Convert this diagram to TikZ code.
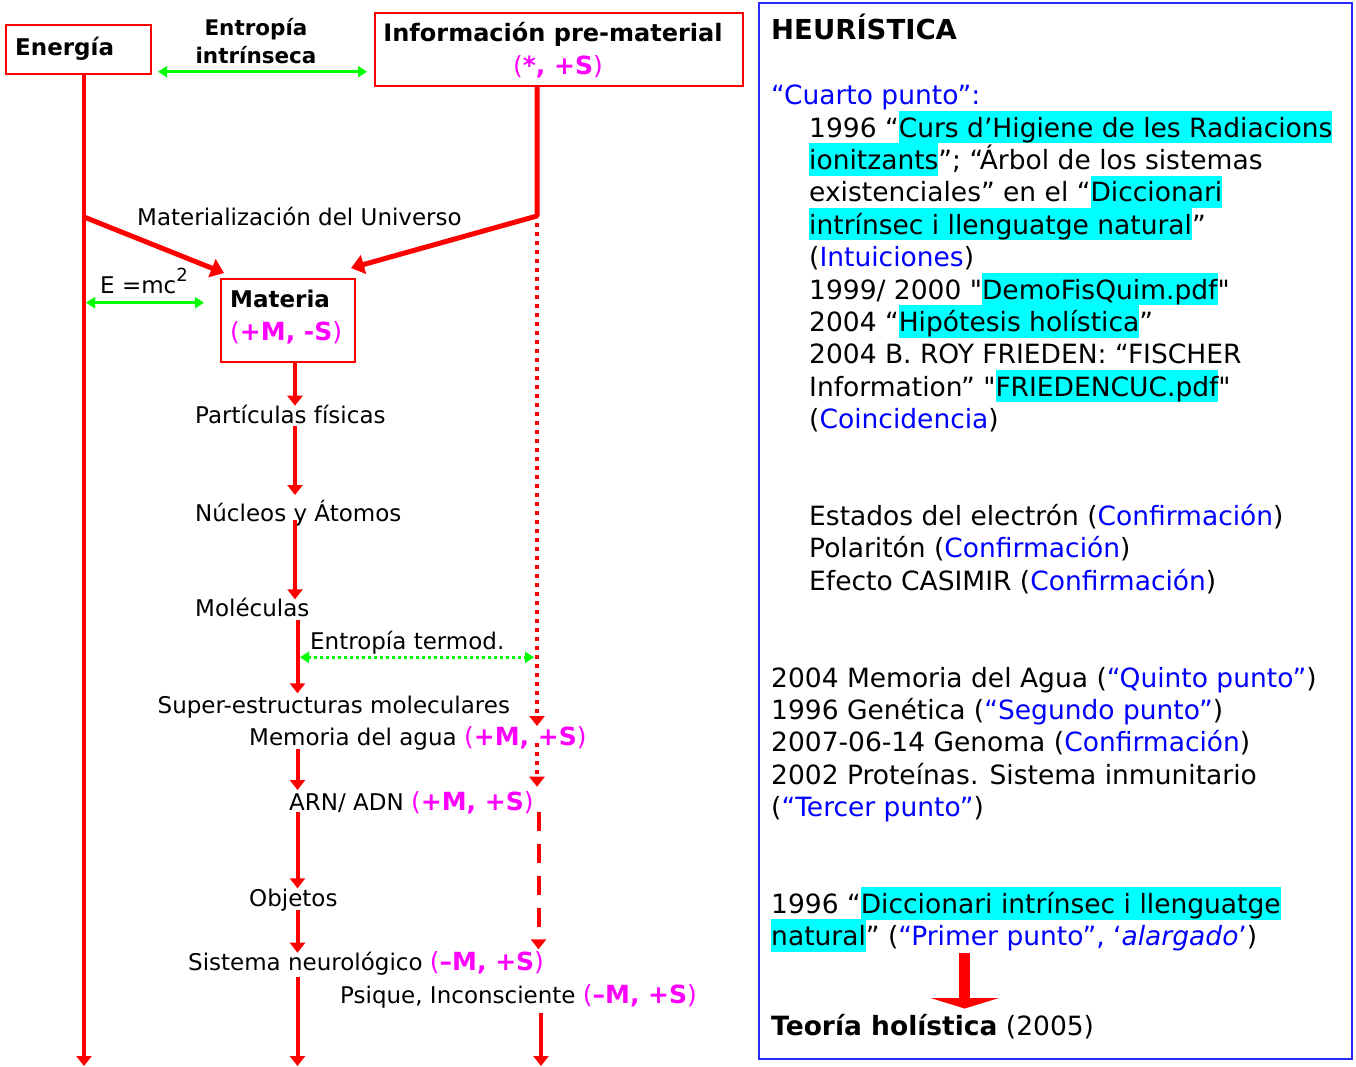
\documentclass[tikz,border=0pt]{standalone}
\usepackage{fontspec}
\setmainfont{DejaVu Sans}
\newfontfamily\qfont{DejaVu Sans}
\usetikzlibrary{arrows.meta}
\definecolor{rd}{RGB}{255,0,0}
\definecolor{gr}{RGB}{0,255,0}
\definecolor{mg}{RGB}{255,0,255}
\definecolor{bl}{RGB}{0,0,255}
\definecolor{bx}{RGB}{40,40,255}
\definecolor{hl}{RGB}{0,255,255}
\newcommand{\hlt}[1]{{\setlength{\fboxsep}{0pt}\colorbox{hl}{\rule[-6.2pt]{0pt}{32.4pt}#1}}}
\newcommand{\bt}[1]{\textcolor{bl}{#1}}
\newcommand{\mgt}[1]{{\fontsize{25}{28}\selectfont\textcolor{mg}{(\textbf{#1})}}}
\newcommand{\dq}{{\qfont"}}
\tikzset{
  lt/.style={anchor=base west, inner sep=0pt, font=\fontsize{23}{28}\selectfont},
  lbt/.style={anchor=base west, inner sep=0pt, font=\bfseries\fontsize{23}{28}\selectfont},
  rt/.style={anchor=base west, inner sep=0pt, font=\fontsize{26.5}{32}\selectfont},
  redbox/.style={draw=rd, line width=2pt, inner sep=0pt, anchor=north west},
  flow/.style={draw=rd, line width=4pt, -{Triangle[width=15pt,length=10pt]}},
  branch/.style={draw=rd, line width=5pt, -{Triangle[width=19pt,length=13pt]}},
  greenarr/.style={draw=gr, line width=2.5pt, {Triangle[width=11pt,length=9pt]}-{Triangle[width=11pt,length=9pt]}},
  reddot/.style={draw=rd, line width=3.5pt, dash pattern=on 4pt off 5pt, -{Triangle[width=15pt,length=10pt]}},
  reddash/.style={draw=rd, line width=4pt, dash pattern=on 19pt off 13pt, -{Triangle[width=15pt,length=10pt]}},
}
\begin{document}
\begin{tikzpicture}[x=1pt,y=-1pt]
\useasboundingbox[fill=white] (0,0) rectangle (1356,1066);
% ---------- boxes ----------
\node[redbox, minimum width=145pt, minimum height=49pt] (energia) at (5,24.3) {};
\node[redbox, minimum width=368pt, minimum height=73pt] (info) at (374,12.3) {};
\node[redbox, minimum width=134pt, minimum height=83pt] (materia) at (220,277.7) {};
\node[lbt] (tEnergia) at (15,55) {Energía};
\node[lbt, anchor=base, font=\bfseries\fontsize{24}{28}\selectfont] (tInfo) at (553,41.7) {Información pre-material};
\node[lt, anchor=base] (tInfoS) at (558,74) {\mgt{*, +S}};
\node[lbt] (tMateria) at (230,307) {Materia};
\node[lt] (tMS) at (230,340) {\mgt{+M, -S}};
\node[anchor=base, inner sep=0pt, font=\bfseries\fontsize{21.5}{28}\selectfont] (tEnt1) at (256,35) {Entropía};
\node[anchor=base, inner sep=0pt, font=\bfseries\fontsize{21.5}{28}\selectfont] (tEnt2) at (256,63) {intrínseca};
% ---------- left texts ----------
\node[lt] (tMatU) at (137,225) {Materialización del Universo};
\node[lt] (tEmc) at (100,293) {E =mc\raisebox{0.5em}{\fontsize{18}{18}\selectfont 2}};
\node[lt] (tPart) at (195,423.3) {Partículas físicas};
\node[lt] (tNuc) at (195,521.7) {Núcleos y Átomos};
\node[lt] (tMol) at (195,616.7) {Moléculas};
\node[lt] (tEt) at (310,649.3) {Entropía termod.};
\node[lt] (tSup) at (157.5,713.3) {Super-estructuras moleculares};
\node[lt] (tMem) at (249,745.7) {Memoria del agua \mgt{+M, +S}};
\node[lt] (tArn) at (289,810) {ARN/ ADN \mgt{+M, +S}};
\node[lt] (tObj) at (249,906) {Objetos};
\node[lt] (tSis) at (188,970.7) {Sistema neurológico \mgt{–M, +S}};
\node[lt] (tPsi) at (340,1003.3) {Psique, Inconsciente \mgt{–M, +S}};
% ---------- coordinates ----------
\coordinate (eTop) at (84,73.3);
\coordinate (eBot) at (84,1066);
\coordinate (eBr) at (84,217);
\coordinate (mIn1) at (224,273);
\coordinate (iTop) at (537,85.3);
\coordinate (iBr) at (537,216);
\coordinate (mIn2) at (351,268);
\coordinate (gA1) at (158,71.7);
\coordinate (gA2) at (367,71.7);
\coordinate (gB1) at (86,302.7);
\coordinate (gB2) at (204,302.7);
\coordinate (gC1) at (300,657.3);
\coordinate (gC2) at (534,657.3);
\coordinate (c1a) at (295,361.7);  \coordinate (c1b) at (295,405.7);
\coordinate (c2a) at (295,426);    \coordinate (c2b) at (295,495);
\coordinate (c3a) at (295,520);    \coordinate (c3b) at (295,599.3);
\coordinate (c4a) at (297.5,620);  \coordinate (c4b) at (297.5,693.3);
\coordinate (c5a) at (297.5,749.3);\coordinate (c5b) at (297.5,790);
\coordinate (c6a) at (297.5,812.3);\coordinate (c6b) at (297.5,888.3);
\coordinate (c7a) at (297.5,910);  \coordinate (c7b) at (297.5,952.7);
\coordinate (c8a) at (297.5,976.7);\coordinate (c8b) at (297.5,1066);
\coordinate (d1a) at (537,223);    \coordinate (d1b) at (537,726);
\coordinate (d2a) at (537,743);    \coordinate (d2b) at (537,786.7);
\coordinate (d3a) at (538.5,812.3);\coordinate (d3b) at (538.5,949.3);
\coordinate (d4a) at (541,1012.7); \coordinate (d4b) at (541,1066);
% ---------- connectors ----------
\draw[flow] (eTop) -- (eBot);
\draw[branch] (eBr) -- (mIn1);
\draw[branch, line join=round] (iTop) -- (iBr) -- (mIn2);
\draw[greenarr] (gA1) -- (gA2);
\draw[greenarr] (gB1) -- (gB2);
\draw[greenarr, dash pattern=on 3pt off 3pt] (gC1) -- (gC2);
\draw[flow] (c1a) -- (c1b);
\draw[flow] (c2a) -- (c2b);
\draw[flow] (c3a) -- (c3b);
\draw[flow] (c4a) -- (c4b);
\draw[flow] (c5a) -- (c5b);
\draw[flow] (c6a) -- (c6b);
\draw[flow] (c7a) -- (c7b);
\draw[flow] (c8a) -- (c8b);
\draw[reddot] (d1a) -- (d1b);
\draw[reddot] (d2a) -- (d2b);
\draw[reddash] (d3a) -- (d3b);
\draw[flow] (d4a) -- (d4b);
% ---------- right panel ----------
\node[draw=bx, line width=2pt, anchor=north west, minimum width=593pt, minimum height=1056pt, inner sep=0pt] (panel) at (758,2) {};
\node[rt, font=\bfseries\fontsize{27.5}{32}\selectfont] (h) at (771,39) {HEURÍSTICA};
\node[rt] (r0) at (771,104) {\bt{“Cuarto punto”:}};
\node[rt] (r1) at (809,137) {1996 “\hlt{Curs d’Higiene de les Radiacions}};
\node[rt] (r2) at (809,169.4) {\hlt{ionitzants}”; “Árbol de los sistemas};
\node[rt] (r3) at (809,201.8) {existenciales” en el “\hlt{Diccionari}};
\node[rt] (r4) at (809,234.2) {\hlt{intrínsec i llenguatge natural}”};
\node[rt] (r5) at (809,266.6) {(\bt{Intuiciones})};
\node[rt] (r6) at (809,299) {1999/ 2000 \dq\hlt{DemoFisQuim.pdf}\dq};
\node[rt] (r7) at (809,331.4) {2004 “\hlt{Hipótesis holística}”};
\node[rt] (r8) at (809,363.8) {2004 B. ROY FRIEDEN: “FISCHER};
\node[rt] (r9) at (809,396.2) {Information” \dq\hlt{FRIEDENCUC.pdf}\dq};
\node[rt] (r10) at (809,428.6) {(\bt{Coincidencia})};
\node[rt] (s1) at (809,525) {Estados del electrón (\bt{Confirmación})};
\node[rt] (s2) at (809,557.5) {Polaritón (\bt{Confirmación})};
\node[rt] (s3) at (809,590) {Efecto CASIMIR (\bt{Confirmación})};
\node[rt] (u1) at (771,687) {2004 Memoria del Agua (\bt{“Quinto punto”})};
\node[rt] (u2) at (771,719.3) {1996 Genética (\bt{“Segundo punto”})};
\node[rt] (u3) at (771,751.7) {2007-06-14 Genoma (\bt{Confirmación})};
\node[rt] (u4) at (771,784) {2002 Proteínas. Sistema inmunitario};
\node[rt] (u5) at (771,816.5) {(\bt{“Tercer punto”})};
\node[rt] (v1) at (771,913.3) {1996 “\hlt{Diccionari intrínsec i llenguatge}};
\node[rt] (v2) at (771,945.5) {\hlt{natural}” (\bt{“Primer punto”, ‘\textit{alargado}’})};
\node[rt] (v3) at (771,1035) {\textbf{Teoría holística} (2005)};
\coordinate (bA) at (964.7,953.3);
\coordinate (bB) at (964.7,1008.5);
\draw[draw=rd, line width=11.5pt, -{Triangle[width=68pt,length=10.5pt]}] (bA) -- (bB);
\end{tikzpicture}
\end{document}
